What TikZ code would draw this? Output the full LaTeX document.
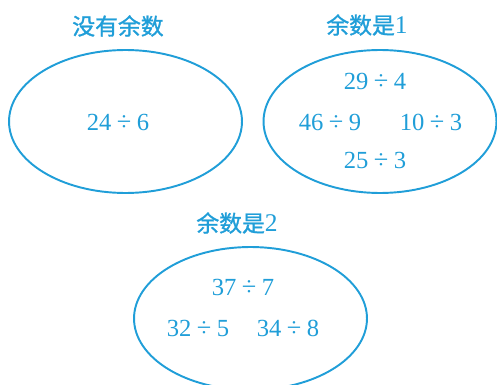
\documentclass[tikz,border=0pt]{standalone}
\usepackage{fontspec}
\setmainfont{Liberation Serif}
\newfontfamily\cjk{Noto Sans CJK SC}[FakeBold=1.2]
\usetikzlibrary{shapes.geometric}

\definecolor{lanse}{RGB}{32,158,216}

\newcommand{\chufa}[2]{#1\hspace{.22em}{\fontsize{15}{15}\selectfont ÷}\hspace{.22em}#2}

\tikzstyle{quan} = [ellipse, draw=lanse, line width=1.1pt, minimum width=4.66cm, minimum height=2.86cm, inner sep=0pt]
\tikzstyle{biaoti} = [text=lanse, font=\cjk\fontsize{13}{15}\selectfont, inner sep=0pt]
\tikzstyle{suanshi} = [text=lanse, font=\fontsize{14}{15}\selectfont, inner sep=0pt]

\begin{document}
\begin{tikzpicture}[x=0.02cm, y=-0.02cm]

    \useasboundingbox (0,0) rectangle (497,385);

    %  ellipses
    \node[quan] (Q0) at (125.5,121.5) {};
    \node[quan] (Q1) at (380,121.5) {};
    \node[quan] (Q2) at (250.5,318.5) {};

   %-------------------------------------------------------------
    \node[biaoti] (T0) at (118,26) {没有余数};
    \node[suanshi] (A0) at (118,122) {\chufa{24}{6}};

   %-------------------------------------------------------------
    \node[biaoti] (T1) at (367,25) {余数是{\rmfamily\fontsize{14.5}{15}\selectfont 1}};
    \node[suanshi] (B1) at (375,81) {\chufa{29}{4}};
    \node[suanshi] (B2) at (330,122) {\chufa{46}{9}};
    \node[suanshi] (B3) at (431,122) {\chufa{10}{3}};
    \node[suanshi] (B4) at (375,160) {\chufa{25}{3}};

   %-------------------------------------------------------------
    \node[biaoti] (T2) at (237,223) {余数是{\rmfamily\fontsize{14.5}{15}\selectfont 2}};
    \node[suanshi] (C1) at (243,287) {\chufa{37}{7}};
    \node[suanshi] (C2) at (198,328) {\chufa{32}{5}};
    \node[suanshi] (C3) at (288,328) {\chufa{34}{8}};

\end{tikzpicture}
\end{document}
